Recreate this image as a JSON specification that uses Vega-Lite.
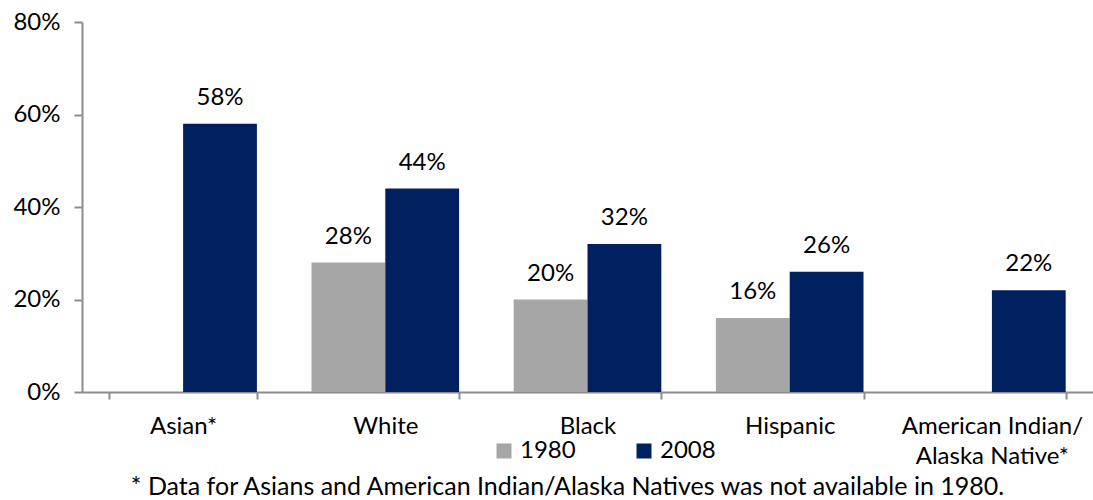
{
  "$schema": "https://vega.github.io/schema/vega-lite/v6.json",
  "width": 1011,
  "height": 370,
  "autosize": {"type": "none"},
  "padding": {"left": 82, "top": 22, "right": 0, "bottom": 108},
  "background": "white",
  "config": {
    "font": "Lato",
    "view": {"stroke": null},
    "axis": {"labelFont": "Lato", "labelFontSize": 24, "labelColor": "#000000", "domainColor": "#8c8c8c", "tickColor": "#8c8c8c", "domainWidth": 2, "tickWidth": 2, "grid": false}
  },
  "data": {
    "values": [
      {"race": "Asian*", "year": "2008", "value": 0.58},
      {"race": "White", "year": "1980", "value": 0.28},
      {"race": "White", "year": "2008", "value": 0.44},
      {"race": "Black", "year": "1980", "value": 0.20},
      {"race": "Black", "year": "2008", "value": 0.32},
      {"race": "Hispanic", "year": "1980", "value": 0.16},
      {"race": "Hispanic", "year": "2008", "value": 0.26},
      {"race": "American Indian/ Alaska Native*", "year": "2008", "value": 0.22}
    ]
  },
  "encoding": {
    "x": {
      "field": "race", "type": "nominal", "sort": null,
      "scale": {"paddingInner": 0.27, "paddingOuter": 0.135},
      "axis": {
        "title": "* Data for Asians and American Indian/Alaska Natives was not available in 1980.",
        "titleFont": "Lato", "titleFontSize": 25, "titleFontWeight": "normal", "titleColor": "#000000",
        "titleX": 485, "titleY": 102, "titleBaseline": "alphabetic", "titleAnchor": "middle", "titleAlign": "center",
        "labelAngle": 0, "tickBand": "extent", "tickSize": 7, "labelPadding": 15, "labelBaseline": "top",
        "labelExpr": "datum.label == 'American Indian/ Alaska Native*' ? ['American Indian/', 'Alaska Native*'] : datum.label",
        "labelLineHeight": 30, "labelLimit": 300
      }
    },
    "xOffset": {"field": "year", "type": "nominal", "scale": {"domain": ["1980", "2008"], "paddingInner": 0, "paddingOuter": 0}},
    "y": {
      "field": "value", "type": "quantitative",
      "scale": {"domain": [0, 0.8]},
      "axis": {"title": null, "values": [0, 0.2, 0.4, 0.6, 0.8], "format": ".0%", "tickSize": 8, "labelPadding": 14}
    }
  },
  "layer": [
    {
      "mark": {"type": "bar"},
      "encoding": {
        "color": {
          "field": "year", "type": "nominal",
          "scale": {"domain": ["1980", "2008"], "range": ["#a6a6a6", "#002060"]},
          "legend": {
            "title": null, "orient": "none", "direction": "horizontal",
            "legendX": 410, "legendY": 417,
            "symbolType": "square", "symbolSize": 225, "symbolStrokeWidth": 0, "symbolOpacity": 1,
            "labelFont": "Lato", "labelFontSize": 24, "labelColor": "#000000",
            "columnPadding": 56, "labelOffset": 4
          }
        }
      }
    },
    {
      "mark": {"type": "text", "baseline": "alphabetic", "dy": -19, "fontSize": 24, "font": "Lato", "color": "#000000"},
      "encoding": {"text": {"field": "value", "type": "quantitative", "format": ".0%"}, "detail": {"field": "year"}}
    }
  ]
}
